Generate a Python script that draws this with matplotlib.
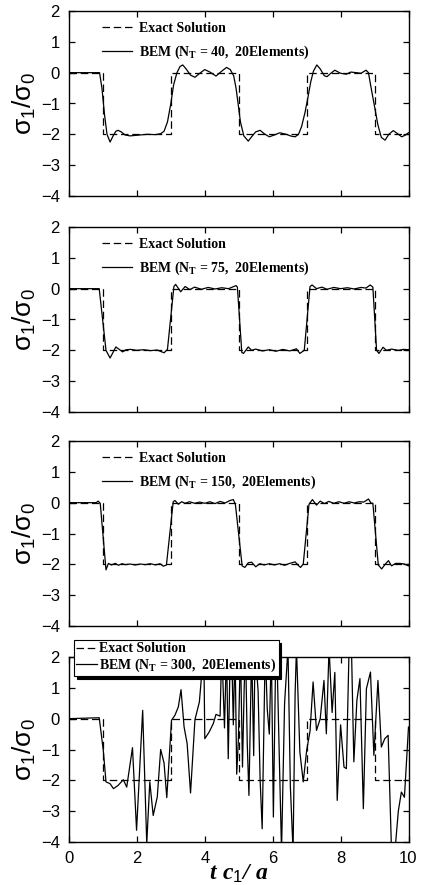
import numpy as np
import matplotlib.pyplot as plt

plt.rcParams['font.family'] = 'Liberation Sans'
plt.rcParams['mathtext.fontset'] = 'custom'
plt.rcParams['mathtext.rm'] = 'Liberation Sans'
plt.rcParams['mathtext.it'] = 'Liberation Sans:italic'
plt.rcParams['mathtext.bf'] = 'Liberation Serif:bold'
plt.rcParams['mathtext.bfit'] = 'Liberation Serif:italic:bold'

# exact square-wave solution
exact_t = [0, 1, 1, 3, 3, 5, 5, 7, 7, 9, 9, 10]
exact_s = [0, 0, -2, -2, 0, 0, -2, -2, 0, 0, -2, -2]

# BEM, N_T = 40
bem40_t = [0, 0.9, 0.97, 1.05, 1.12, 1.21, 1.3, 1.38, 1.45, 1.55, 1.65, 1.8, 2.0, 2.3,
           2.55, 2.7, 2.8, 2.9, 3.0, 3.08, 3.18, 3.27, 3.35, 3.45, 3.58, 3.71, 3.85,
           4.0, 4.15, 4.33, 4.5, 4.64, 4.75, 4.85, 4.92, 4.98, 5.05, 5.15, 5.28, 5.4,
           5.5, 5.63, 5.75, 5.9, 6.05, 6.21, 6.4, 6.55, 6.66, 6.76, 6.85, 6.95, 7.03,
           7.12, 7.2, 7.3, 7.4, 7.52, 7.6, 7.7, 7.83, 8.0, 8.17, 8.3, 8.46, 8.6, 8.75,
           8.82, 8.9, 9.0, 9.1, 9.2, 9.31, 9.42, 9.55, 9.68, 9.8, 9.9, 10.0]
bem40_s = [0, 0, -0.5, -1.4, -2.0, -2.25, -2.05, -1.9, -1.87, -1.93, -2.02, -2.05, -2.03, -2.0,
           -2.01, -1.98, -1.9, -1.6, -1.0, -0.4, 0.0, 0.2, 0.25, 0.12, -0.08, -0.15, -0.02,
           0.1, 0.02, -0.11, 0.05, 0.17, 0.1, -0.1, -0.5, -1.0, -1.6, -2.05, -2.22, -2.05,
           -1.92, -1.87, -1.98, -2.08, -2.02, -1.95, -2.0, -2.06, -2.08, -2.0, -1.75, -1.3, -0.85,
           -0.3, 0.05, 0.25, 0.12, -0.1, -0.13, -0.03, 0.08, -0.02, -0.05, 0.02, 0.0, -0.02, 0.08,
           0.0, -0.5, -1.1, -1.7, -2.1, -2.19, -2.0, -1.88, -1.98, -2.08, -2.03, -1.95]

# BEM, N_T = 75
bem75_t = [0, 0.89, 1.09, 1.21, 1.38, 1.58, 1.68, 1.82, 2.0, 2.2, 2.4, 2.6, 2.8, 2.9,
           3.09, 3.14, 3.29, 3.42, 3.56, 3.7, 3.9, 4.1, 4.3, 4.5, 4.7, 4.92, 4.96,
           5.09, 5.14, 5.28, 5.38, 5.5, 5.7, 5.9, 6.1, 6.3, 6.5, 6.7, 6.8, 6.93,
           7.1, 7.16, 7.29, 7.45, 7.6, 7.8, 8.0, 8.2, 8.4, 8.6, 8.75, 8.87, 8.95,
           9.06, 9.13, 9.25, 9.35, 9.5, 9.7, 9.85, 10.0]
bem75_s = [0, 0, -2.0, -2.25, -1.89, -2.05, -1.98, -1.97, -2.0, -1.98, -2.01, -1.99, -2.08, -1.97,
           0.07, 0.14, -0.1, 0.07, -0.03, 0.05, -0.02, 0.04, -0.01, 0.03, 0.0, 0.1, 0.05,
           -2.07, -2.1, -1.89, -2.0, -1.96, -2.02, -1.98, -2.03, -1.97, -2.02, -1.95, -2.1, -2.0,
           0.07, 0.12, 0.0, 0.05, -0.02, 0.04, 0.0, 0.03, -0.01, 0.04, 0.02, 0.12, 0.05,
           -2.0, -2.1, -1.9, -2.0, -1.96, -2.0, -1.97, -1.98]

# BEM, N_T = 150
bem150_t = [0, 0.8, 0.86, 0.92, 1.09, 1.16, 1.25, 1.36, 1.46, 1.56, 1.66, 1.8, 1.95, 2.1,
            2.25, 2.4, 2.55, 2.68, 2.78, 2.87, 3.07, 3.12, 3.22, 3.32, 3.42, 3.55, 3.7,
            3.85, 4.0, 4.15, 4.3, 4.45, 4.6, 4.74, 4.84, 4.9, 5.1, 5.18, 5.28, 5.38,
            5.5, 5.62, 5.75, 5.9, 6.05, 6.2, 6.35, 6.5, 6.66, 6.75, 6.82, 6.9, 7.07,
            7.17, 7.29, 7.4, 7.52, 7.65, 7.8, 7.95, 8.1, 8.25, 8.4, 8.55, 8.68, 8.77,
            8.82, 8.9, 8.95, 9.11, 9.21, 9.31, 9.41, 9.5, 9.62, 9.75, 9.88, 10.0]
bem150_s = [0, 0, 0.05, -0.02, -2.18, -1.97, -2.02, -1.97, -2.03, -1.98, -2.01, -1.99, -2.02, -1.99,
            -2.01, -1.98, -2.02, -1.98, -2.06, -2.02, 0.03, 0.07, -0.05, 0.03, -0.02, 0.03, -0.02,
            0.02, -0.02, 0.03, -0.03, 0.04, -0.01, 0.07, 0.1, -0.05, -2.05, -2.1, -1.95, -1.93,
            -2.08, -1.98, -2.02, -1.98, -2.02, -1.98, -2.03, -1.97, -1.92, -2.03, -2.1, -1.99, -0.05,
            0.1, -0.08, 0.05, -0.03, 0.04, -0.02, 0.03, -0.02, 0.03, -0.01, 0.03, 0.02, 0.08,
            0.12, -0.02, -0.02, -2.02, -2.15, -2.0, -1.88, -2.05, -1.97, -1.97, -1.99, -2.05]

# BEM, N_T = 300 (unstable)
bem300_t = [0, 0.89, 1.01, 1.09, 1.21, 1.31, 1.45, 1.6, 1.7, 1.87, 1.99, 2.17, 2.29, 2.38,
            2.48, 2.6, 2.7, 2.8, 2.88, 3.02, 3.12, 3.22, 3.3, 3.39, 3.48, 3.58, 3.71,
            3.84, 3.91, 3.97, 4.0, 4.13, 4.25, 4.33, 4.45, 4.5, 4.58, 4.64, 4.69, 4.74,
            4.79, 4.84, 4.89, 4.94, 4.99, 5.05, 5.11, 5.16, 5.2, 5.25, 5.3, 5.38, 5.44,
            5.48, 5.57, 5.63, 5.69, 5.78, 5.84, 5.9, 5.96, 6.02, 6.08, 6.12, 6.2, 6.26,
            6.35, 6.45, 6.52, 6.6, 6.66, 6.7, 6.8, 6.9, 7.0, 7.1, 7.19, 7.29, 7.4,
            7.51, 7.58, 7.66, 7.75, 7.83, 7.9, 8.0, 8.1, 8.17, 8.25, 8.32, 8.39, 8.48,
            8.57, 8.67, 8.76, 8.88, 8.98, 9.1, 9.2, 9.3, 9.4, 9.5, 9.6, 9.7, 9.79,
            9.88, 10.0]
bem300_s = [0, 0.03, -1.03, -2.05, -2.11, -2.27, -2.16, -1.98, -2.22, -0.94, -3.62, 0.27, -4.05, -2.05,
            -3.14, -2.54, -1.0, -1.44, -2.56, -0.05, 0.11, 0.38, 0.94, -0.27, -0.81, -2.41, -0.03,
            0.54, 1.46, 2.3, -0.65, -0.43, -0.16, 0.14, 0.08, 2.3, -0.3, 2.3, -1.3, 1.6,
            2.3, -0.2, 2.3, -1.8, -0.65, 2.3, -1.57, 1.0, 2.3, -0.8, -2.49, 2.3, -1.2,
            2.3, 0.9, -2.0, -3.57, 2.3, 0.3, -0.5, 2.3, -3.19, 1.4, 2.3, -1.5, -4.3,
            0.5, 2.3, -2.2, -4.3, 0.8, 2.3, -1.08, -2.05, -1.03, -0.4, 1.19, -0.38, 0.0,
            1.24, -0.49, 2.3, 0.2, 1.5, -2.65, -0.2, -1.57, -1.62, 2.3, 2.3, -1.4, 0.6,
            1.3, -2.92, 0.97, 1.51, -1.19, 1.24, -0.92, -0.65, -0.54, -4.3, -4.3, -3.0, -2.38,
            -2.55, -0.27]

runs = [(bem40_t, bem40_s, '40'), (bem75_t, bem75_s, '75'),
        (bem150_t, bem150_s, '150'), (bem300_t, bem300_s, '300')]

fig = plt.figure(figsize=(4.24, 8.85), dpi=100)
W, H = 424, 885
tops = [11, 227, 441, 657]
ph = 185

for i, (bt, bs, nt) in enumerate(runs):
    ax = fig.add_axes([69 / W, (H - tops[i] - ph) / H, 339.5 / W, ph / H])
    ax.plot(exact_t, exact_s, color='black', lw=0.9, ls=(0, (6, 3)),
            label='Exact Solution')
    ax.plot(bt, bs, color='black', lw=0.9,
            label='BEM (N$_{\\mathbf{T}}$ = %s,  20Elements)' % nt)
    ax.set_xlim(0, 10)
    ax.set_ylim(-4, 2)
    ax.set_xticks([0, 2, 4, 6, 8, 10])
    ax.set_yticks([-4, -3, -2, -1, 0, 1, 2])
    ax.tick_params(direction='in', length=4.5, width=0.9, top=True, right=True,
                   labelsize=12, pad=6.5)
    for sp in ax.spines.values():
        sp.set_linewidth(1.0)
    ax.set_ylabel(r'$\mathrm{\sigma_1/\sigma_0}$', fontsize=19, labelpad=2)
    lfont = {'family': 'Liberation Serif', 'weight': 'bold', 'size': 10}
    if i < 3:
        ax.tick_params(labelbottom=False)
        ax.legend(loc='upper left', bbox_to_anchor=(0.097, 0.94), frameon=False,
                  prop=lfont, borderpad=0, borderaxespad=0, handlelength=2.2,
                  handletextpad=0.45, labelspacing=0.6)
    else:
        leg = ax.legend(loc='upper left', bbox_to_anchor=(0.015, 1.09), frameon=True,
                        prop=lfont, borderpad=0.15, borderaxespad=0, handlelength=1.5,
                        handletextpad=0.15, labelspacing=0.1, fancybox=False,
                        shadow={'color': 'black', 'alpha': 1})
        leg.get_frame().set_edgecolor('black')
        leg.get_frame().set_linewidth(0.8)
        ax.set_xlabel(r'$\mathbfit{t\ c}_{\mathrm{1}}\mathbfit{/\ a}$', fontsize=17,
                      labelpad=-3)

fig.savefig('out.png', dpi=100)
